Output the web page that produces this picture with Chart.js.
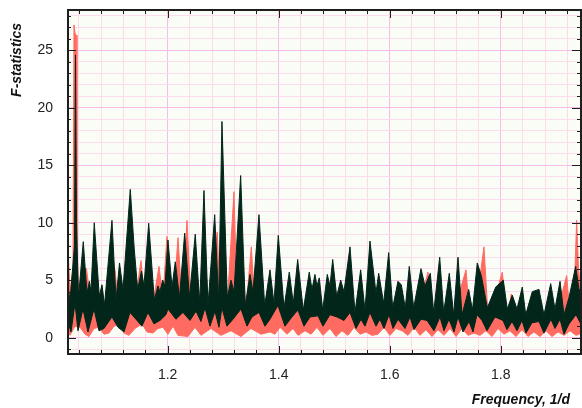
<!DOCTYPE html>
<html><head><meta charset="utf-8">
<script src="https://cdn.jsdelivr.net/npm/chart.js@4.4.1/dist/chart.umd.min.js"></script>
<style>html,body{margin:0;padding:0;background:#fff}canvas{display:block}</style>
</head><body>
<canvas id="c" width="582" height="408"></canvas>
<script>
// ---- data (frequency 1/d, F-statistic) ----
const darkHiF = [1.0195,1.0240,1.0321,1.0339,1.0357,1.0393,1.0479,1.0546,1.0591,1.0618,1.0677,1.0768,1.0816,1.0861,1.0996,1.1069,1.1132,1.1195,1.1326,1.1398,1.1459,1.1528,1.1573,1.1658,1.1759,1.1825,1.1861,1.1910,1.1951,1.2005,1.2078,1.2137,1.2213,1.2306,1.2393,1.2497,1.2577,1.2654,1.2726,1.2847,1.2919,1.2978,1.3074,1.3141,1.3195,1.3315,1.3398,1.3483,1.3537,1.3645,1.3748,1.3843,1.3915,1.3993,1.4096,1.4191,1.4263,1.4342,1.4443,1.4551,1.4600,1.4654,1.4690,1.4732,1.4793,1.4876,1.4924,1.4973,1.5045,1.5117,1.5177,1.5285,1.5375,1.5477,1.5555,1.5645,1.5753,1.5802,1.5892,1.5982,1.6054,1.6149,1.6209,1.6281,1.6353,1.6432,1.6564,1.6636,1.6732,1.6793,1.6901,1.6973,1.7074,1.7153,1.7231,1.7303,1.7423,1.7492,1.7578,1.7651,1.7759,1.7910,1.8047,1.8119,1.8209,1.8294,1.8389,1.8451,1.8569,1.8690,1.8780,1.8901,1.8978,1.9069,1.9141,1.9231,1.9351,1.9411,1.9465];
const darkHiV = [4.8,3.2,8,24.6,10,3.5,8.35,3.9,4.9,4.0,10.0,3.6,4.6,2.8,10.2,3.3,6.5,4.2,12.9,7.7,4.2,5.8,4.5,9.95,3.3,4.5,4.0,5.0,4.5,8.5,4.4,6.6,3.5,9.1,3.5,9.0,3.0,12.8,2.8,10.7,3.2,18.8,3.5,5.0,4.0,14.1,2.8,5.5,4.0,10.7,2.8,5.9,3.0,8.9,2.6,5.7,3.0,6.8,2.4,5.7,4.2,5.5,4.5,5.2,2.4,5.5,4.5,6.8,3.6,5.0,4.0,7.9,2.2,5.9,2.4,8.4,3.9,5.6,3.0,7.4,2.6,4.9,4.6,2.6,6.2,2.6,6.0,4.5,5.6,2.2,7.0,2.2,5.6,2.0,7.0,2.0,4.2,2.4,6.5,5.4,2.6,4.4,5.0,2.5,3.7,2.5,4.4,2.0,4.0,4.2,2.0,4.7,2.5,4.9,2.0,3.5,6.2,4.2,4.0];

const darkLoF = [1.0195,1.0258,1.0330,1.0384,1.0474,1.0564,1.0672,1.0762,1.0852,1.0996,1.1106,1.1213,1.1321,1.1447,1.1537,1.1645,1.1753,1.1861,1.1969,1.2005,1.2149,1.2276,1.2402,1.2510,1.2600,1.2672,1.2762,1.2852,1.2924,1.2978,1.3068,1.3177,1.3321,1.3429,1.3519,1.3645,1.3753,1.3843,1.3987,1.4113,1.4239,1.4347,1.4456,1.4564,1.4708,1.4798,1.4924,1.5050,1.5177,1.5285,1.5393,1.5483,1.5555,1.5645,1.5753,1.5825,1.5897,1.5987,1.6060,1.6150,1.6276,1.6366,1.6438,1.6564,1.6672,1.6798,1.6906,1.6978,1.7068,1.7159,1.7231,1.7321,1.7429,1.7501,1.7573,1.7663,1.7753,1.7897,1.8041,1.8114,1.8204,1.8294,1.8384,1.8456,1.8564,1.8690,1.8780,1.8906,1.8978,1.9069,1.9141,1.9231,1.9357,1.9465];
const darkLoV = [1.5,0.5,3.0,0.6,2.5,0.5,2.5,0.6,0.8,1.8,0.9,0.5,2.2,1.5,1.0,2.2,1.2,1.5,2.0,2.5,1.6,2.2,1.5,2.3,1.4,2.6,1.0,2.3,0.9,2.6,1.0,1.6,2.5,1.0,1.8,2.2,1.0,1.6,2.8,1.0,1.8,2.4,1.0,1.8,1.9,1.0,2.0,1.8,1.5,2.2,0.8,1.6,1.0,2.2,1.0,1.6,0.8,2.0,0.8,1.6,0.8,1.8,0.7,1.6,1.5,0.6,1.8,0.6,1.6,0.5,1.8,0.5,1.4,0.5,2.0,1.5,0.6,1.8,1.5,0.7,1.4,0.6,1.5,0.4,1.3,1.4,0.4,1.6,0.8,1.6,0.3,1.2,2.0,1.0];

const redHiF = [1.0195,1.0240,1.0294,1.0312,1.0330,1.0351,1.0366,1.0402,1.0474,1.0537,1.0618,1.0672,1.0762,1.0816,1.0870,1.0978,1.1052,1.1106,1.1231,1.1321,1.1411,1.1519,1.1591,1.1663,1.1735,1.1843,1.1915,1.1987,1.2060,1.2132,1.2186,1.2258,1.2348,1.2420,1.2510,1.2582,1.2672,1.2744,1.2893,1.2946,1.3000,1.3068,1.3195,1.3249,1.3321,1.3411,1.3507,1.3573,1.3645,1.3753,1.3843,1.3933,1.4005,1.4113,1.4204,1.4312,1.4366,1.4474,1.4564,1.4708,1.4798,1.4924,1.5050,1.5177,1.5231,1.5303,1.5393,1.5483,1.5573,1.5645,1.5753,1.5825,1.5915,1.6005,1.6078,1.6150,1.6276,1.6366,1.6438,1.6564,1.6690,1.6798,1.6906,1.6978,1.7068,1.7159,1.7231,1.7375,1.7447,1.7519,1.7591,1.7699,1.7771,1.7897,1.8029,1.8114,1.8191,1.8294,1.8384,1.8456,1.8564,1.8690,1.8780,1.8888,1.8978,1.9189,1.9249,1.9339,1.9369,1.9402,1.9465];
const redHiV = [8.8,4.0,6,27.2,26.5,26.3,8,3,6,6.0,3,7,3,4.5,2.5,6,5.9,3,4.8,7,3,6.7,3,6,3,6.2,3.5,8.8,3,5,8.7,3,10.2,3,6.5,3,7,2.5,9.2,3,8,2.5,12.7,3,8,2.5,7.9,2.5,6,2.5,4,3.0,3.5,1.8,3.0,2.0,3.2,1.6,3.0,3.2,1.6,3.0,3.4,2.2,4.0,3.5,1.6,2.8,1.5,3.0,2.5,3.3,1.5,3.2,1.5,3.5,1.5,3.5,1.3,3.3,5.7,1.3,3.5,1.3,3.3,1.2,3.5,5.9,1.5,3,4,7.9,2,3.5,5.7,1.6,3.8,1.6,3,1.2,3,3,1.2,3.5,1.5,5.4,2,6,10.2,6,3];

const redLoF = [1.0195,1.0240,1.0330,1.0420,1.0510,1.0582,1.0672,1.0762,1.0852,1.0942,1.1032,1.1123,1.1213,1.1303,1.1411,1.1537,1.1627,1.1735,1.1825,1.1915,1.2005,1.2096,1.2186,1.2366,1.2492,1.2600,1.2780,1.2960,1.3141,1.3321,1.3501,1.3681,1.3843,1.3933,1.4024,1.4150,1.4258,1.4348,1.4474,1.4582,1.4690,1.4798,1.4924,1.5032,1.5140,1.5249,1.5357,1.5465,1.5573,1.5681,1.5789,1.5897,1.6005,1.6114,1.6222,1.6330,1.6438,1.6546,1.6654,1.6762,1.6870,1.6978,1.7087,1.7195,1.7303,1.7411,1.7519,1.7627,1.7735,1.7843,1.7951,1.8059,1.8168,1.8276,1.8384,1.8492,1.8600,1.8708,1.8816,1.8924,1.9033,1.9141,1.9249,1.9357,1.9465];
const redLoV = [0.6,0.2,1.0,0.9,0.3,0.1,0.8,0.9,0.3,0.4,1.0,1.2,0.4,0.2,0.8,1.2,0.5,0.4,0.8,0.9,0.3,1.0,0.2,0.1,0.9,0.2,0.8,0.2,0.6,0.1,0.8,0.3,0.5,0.3,0.9,0.3,0.8,0.2,0.6,0.3,0.9,0.2,0.8,0.1,0.6,0.2,0.9,0.3,0.5,0.2,0.3,0.9,0.2,0.8,0.6,0.2,0.9,0.2,0.7,0.1,0.7,0.2,0.8,0.1,0.8,0.2,0.4,0.2,0.6,0.1,0.8,0.3,0.6,0.1,0.7,0.1,0.5,0.1,0.6,0.1,0.5,0.2,0.6,0.2,0.4];

const xTickLabels = ['1.2','1.4','1.6','1.8'];
const yTickLabels = ['0','5','10','15','20','25'];
const xTitle = 'Frequency, 1/d';
const yTitle = 'F-statistics';

// ---- styling ----
const DARK = '#02261a', RED = '#ff6b61';
const GRID_MINOR = '#fcdcec', GRID_MAJOR = '#f9bce6', BG = '#fafdf6', AXIS = '#1e1e1e';
const FONT = '"Liberation Sans", Arial, Helvetica, sans-serif';

const pts = (F, V) => F.map((f, i) => ({x: f, y: V[i]}));
const near = (v, list) => list.find(l => Math.abs(parseFloat(l) - v) < 1e-6);
const isMajorX = v => Math.abs(v / 0.2 - Math.round(v / 0.2)) < 1e-6;
const isMajorY = v => Math.abs(v / 5 - Math.round(v / 5)) < 1e-6;

const band = (data, color, fill) => ({
  data, borderColor: color, backgroundColor: color, borderWidth: 1,
  pointRadius: 0, tension: 0, fill
});

const noPad = s => { s.paddingTop = 0; s.paddingBottom = 0; s.paddingLeft = 0; s.paddingRight = 0; };

const decor = {
  id: 'decor',
  beforeDraw(chart) {
    const {ctx, chartArea: a} = chart;
    ctx.save();
    ctx.fillStyle = BG;
    ctx.fillRect(a.left, a.top, a.right - a.left, a.bottom - a.top);
    ctx.restore();
  },
  afterDraw(chart) {
    const {ctx, chartArea: a, scales: {x, y}} = chart;
    ctx.save();
    ctx.strokeStyle = AXIS;
    ctx.lineWidth = 1;
    ctx.beginPath();
    x.ticks.forEach(t => {
      const p = Math.round(x.getPixelForValue(t.value)) + 0.5;
      const L = isMajorX(t.value) ? 8 : 4;
      ctx.moveTo(p, a.bottom); ctx.lineTo(p, a.bottom - L);
      ctx.moveTo(p, a.top); ctx.lineTo(p, a.top + L);
    });
    y.ticks.forEach(t => {
      const p = Math.round(y.getPixelForValue(t.value)) + 0.5;
      const L = isMajorY(t.value) ? 9 : 4;
      ctx.moveTo(a.left, p); ctx.lineTo(a.left + L, p);
      ctx.moveTo(a.right, p); ctx.lineTo(a.right - L, p);
    });
    ctx.stroke();
    ctx.lineWidth = 2;
    ctx.beginPath();
    ctx.moveTo(a.left + 1, a.top); ctx.lineTo(a.left + 1, a.bottom);
    ctx.moveTo(a.left, a.bottom); ctx.lineTo(a.right + 1, a.bottom);
    ctx.moveTo(a.left, a.top); ctx.lineTo(a.right + 1, a.top);
    ctx.moveTo(a.right, a.top); ctx.lineTo(a.right, a.bottom);
    ctx.stroke();
    // axis titles
    ctx.fillStyle = '#111';
    ctx.font = 'bold italic 14px ' + FONT;
    ctx.textAlign = 'right';
    ctx.textBaseline = 'middle';
    ctx.fillText(xTitle, 570, 400);
    ctx.translate(17, 23);
    ctx.rotate(-Math.PI / 2);
    ctx.fillText(yTitle, 0, 0);
    ctx.restore();
  }
};

new Chart(document.getElementById('c'), {
  type: 'line',
  data: {
    datasets: [
      band(pts(darkHiF, darkHiV), DARK, '+1'),
      band(pts(darkLoF, darkLoV), DARK, false),
      band(pts(redHiF, redHiV), RED, '+1'),
      band(pts(redLoF, redLoV), RED, false)
    ]
  },
  options: {
    responsive: false, animation: false, devicePixelRatio: 1,
    layout: {padding: {top: 10, right: 1, left: 0, bottom: 0}},
    plugins: {legend: {display: false}, tooltip: {enabled: false}},
    scales: {
      x: {
        type: 'linear', min: 1.0186, max: 1.9447,
        afterFit: s => { s.height = 54; noPad(s); },
        border: {display: false},
        grid: {drawTicks: false, lineWidth: 1, color: c => isMajorX(c.tick.value) ? GRID_MAJOR : GRID_MINOR},
        ticks: {
          stepSize: 0.04, autoSkip: false, includeBounds: false, maxRotation: 0, padding: 13,
          color: '#222', font: {family: FONT, size: 14},
          callback: v => near(v, xTickLabels) || ''
        }
      },
      y: {
        type: 'linear', min: -1.42, max: 28.5,
        afterFit: s => { s.width = 67; noPad(s); },
        border: {display: false},
        grid: {drawTicks: false, lineWidth: 1, color: c => isMajorY(c.tick.value) ? GRID_MAJOR : GRID_MINOR},
        ticks: {
          stepSize: 1, autoSkip: false, includeBounds: false, padding: 14,
          color: '#222', font: {family: FONT, size: 14},
          callback: v => near(v, yTickLabels) || ''
        }
      }
    }
  },
  plugins: [decor]
});
</script>
</body></html>
